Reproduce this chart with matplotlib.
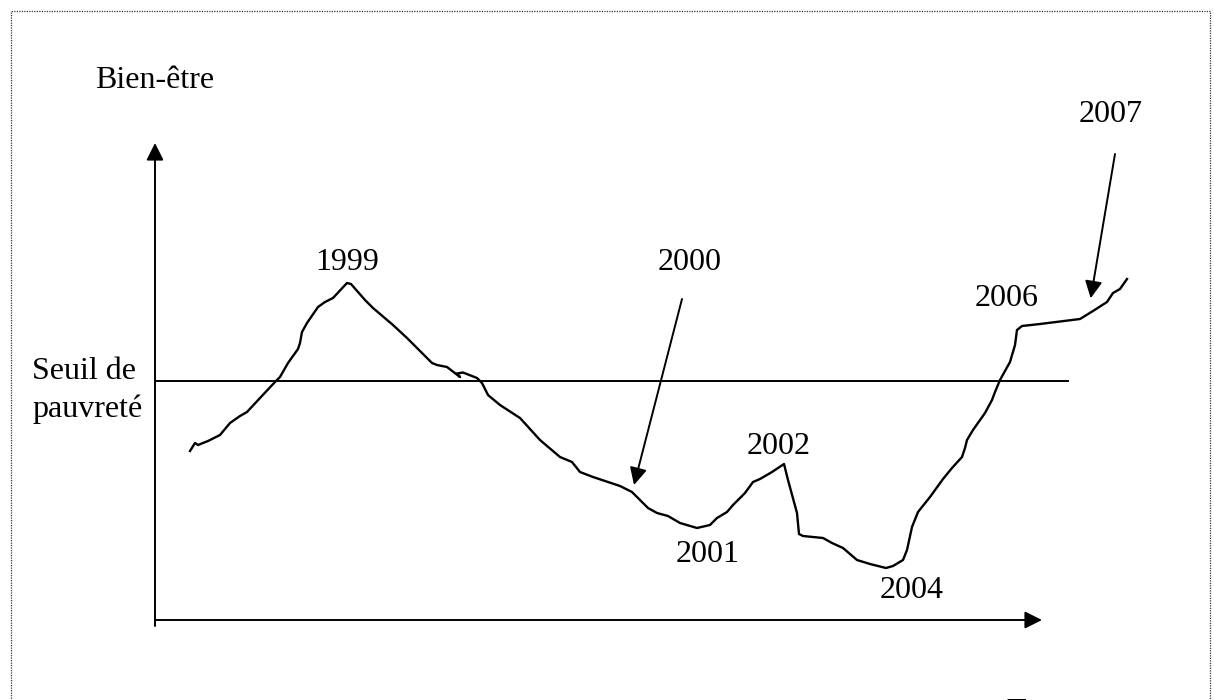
import matplotlib.pyplot as plt
from matplotlib.patches import Rectangle

plt.rcParams['font.family'] = ['Liberation Serif', 'DejaVu Serif']

# courbe du bien-être (temps, niveau) - tracé à main levée
temps = [35, 40, 43, 53, 65, 75, 85, 92, 105, 120, 125, 133, 143, 145, 147,
         152, 163, 170, 178, 192, 196, 210, 218, 238, 252, 277, 282, 292,
         305, 302, 308, 322, 327, 333, 345, 365, 385, 405, 417, 425, 438,
         465, 477, 493, 502, 513, 525, 542, 555, 562, 572, 578, 590, 598,
         605, 617, 629, 633, 642, 644, 648, 668, 677, 688, 702, 715, 731,
         738, 748, 752, 757, 763, 775, 788, 797, 807, 810, 812, 818, 830,
         837, 840, 845, 855, 860, 862, 867, 885, 925, 938, 952, 958, 965, 972]
bien_etre = [169, 177, 175, 179, 185, 197, 204, 208, 222, 238, 243, 257, 271,
             277, 288, 297, 313, 318, 322, 337, 336, 320, 312, 295, 282, 257,
             255, 253, 243, 246.5, 247.5, 242, 237, 225, 215, 202, 180, 163,
             158, 148, 143, 134, 128, 112, 107, 104, 97, 92, 95, 102, 108, 115,
             127, 138, 141, 148, 156, 140, 107, 86, 84, 82, 77, 72, 60, 56, 52,
             54, 60, 70, 93, 108, 123, 141, 152, 163, 172, 180, 190, 207, 220,
             228, 240, 258, 275, 290, 294, 296, 301, 309, 318, 327, 331, 341]

seuil = 239

# étiquettes des années
annees = ['1999', '2000', '2001', '2002', '2004', '2006', '2007']
pos_annees = [(192, 358), (535, 358), (553, 66), (624, 174), (757, 29),
              (852, 321), (956, 506)]

# flèches (départ, pointe)
fleches = [((527, 321), (479, 135)), ((960, 466), (935.7, 321.7))]

fig = plt.figure(figsize=(12.14, 7), dpi=100)
ax = fig.add_axes([0, 0, 1, 1])
ax.set_xlim(-155, 1059)
ax.set_ylim(-80, 620)
ax.axis('off')

# cadre pointillé
ax.add_patch(Rectangle((-144.5, -120), 1199.5, 729, fill=False,
                       linestyle=(0, (1, 1)), linewidth=0.9, edgecolor='#333'))

# axes avec flèches
arrow = dict(arrowstyle='-|>', mutation_scale=26, color='black', lw=1.4,
             shrinkA=0, shrinkB=0)
ax.annotate('', xy=(0, 477), xytext=(0, -6), arrowprops=arrow)
ax.annotate('', xy=(887, 0), xytext=(0, 0), arrowprops=arrow)

# seuil de pauvreté
ax.plot([0, 913], [seuil, seuil], color='black', lw=1.4)

# courbe
ax.plot(temps, bien_etre, color='black', lw=1.7, solid_joinstyle='round')

for (a, b) in fleches:
    ax.annotate('', xy=b, xytext=a, arrowprops=arrow)

fs = 23
for lab, (x, y) in zip(annees, pos_annees):
    ax.text(x, y, lab, fontsize=fs, ha='center', va='center')

ax.text(-60, 532, 'Bien-être', fontsize=fs, ha='left', va='baseline')
ax.text(-123, 241, 'Seuil de', fontsize=fs, ha='left', va='baseline')
ax.text(-123, 203, 'pauvreté', fontsize=fs, ha='left', va='baseline')
ax.text(851, -100, 'Temps', fontsize=fs, ha='left', va='baseline')

fig.savefig('out.png', dpi=100)
